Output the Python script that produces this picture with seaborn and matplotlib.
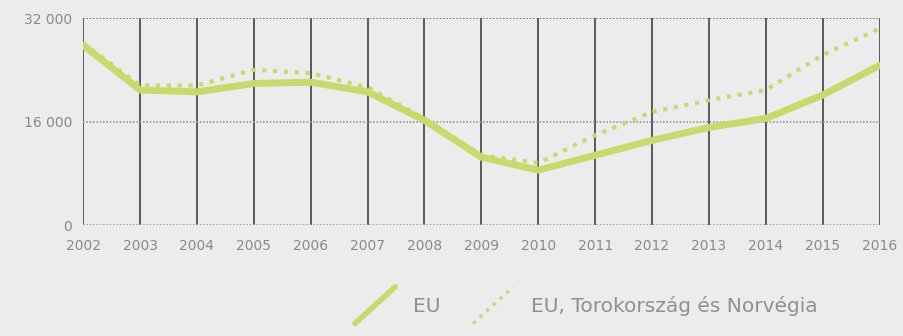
import matplotlib
matplotlib.use("Agg")
import matplotlib.pyplot as plt
import seaborn as sns
import pandas as pd
from matplotlib.legend_handler import HandlerLine2D
from matplotlib.lines import Line2D

years = list(range(2002, 2017))
eu = [27800, 20900, 20600, 21900, 22100, 20600, 16200, 10500, 8500, 10800, 13100, 15100, 16500, 20100, 24700]
eu_tr_no = [28100, 21600, 21600, 24000, 23500, 21300, 16500, 10800, 9600, 13900, 17500, 19300, 20900, 26300, 30400]
series_names = ["EU", "EU, Torokország és Norvégia"]
y_ticks = [0, 16000, 32000]
y_tick_labels = ["0", "16 000", "32 000"]

df = pd.DataFrame({"year": years * 2,
                   "value": eu + eu_tr_no,
                   "series": [series_names[0]] * len(years) + [series_names[1]] * len(years)})

sns.set_theme(style="white")
plt.rcParams['font.family'] = ['DejaVu Sans']
bg = "#ececec"
green = "#c8da6e"
txt = "#8a8a8a"

fig = plt.figure(figsize=(9.04, 3.36), dpi=100, facecolor=bg)
ax = fig.add_axes([0.092, 0.330, 0.881, 0.616], facecolor=bg)

for yr in years:
    ax.axvline(yr, color="#5a5a5a", lw=1.4, zorder=1)
ax.axhline(16000, color="#9a9a9a", lw=1.2, ls=(0, (1, 1)), zorder=1)
ax.axhline(32000, color="#6a6a6a", lw=1.2, ls=(0, (1, 1)), zorder=1)
ax.axhline(0, color="#9a9a9a", lw=1.2, ls=(0, (1, 1)), zorder=1)

sns.lineplot(data=df[df.series == series_names[0]], x="year", y="value", ax=ax,
             color=green, lw=5, legend=False, zorder=3)
sns.lineplot(data=df[df.series == series_names[1]], x="year", y="value", ax=ax,
             color=green, lw=3, ls=(0, (1, 1.6)), legend=False, zorder=3)

ax.set_xlim(2002, 2016)
ax.set_ylim(0, 32000)
ax.set_xticks(years)
ax.set_xticklabels([str(y) for y in years], color=txt, fontsize=10)
ax.set_yticks(y_ticks)
ax.set_yticklabels(y_tick_labels, color=txt, fontsize=10)
ax.tick_params(axis="x", length=0, pad=10)
ax.tick_params(axis="y", length=0, pad=8)
ax.set_xlabel("")
ax.set_ylabel("")
for s in ax.spines.values():
    s.set_visible(False)


class DiagHandler(HandlerLine2D):
    def create_artists(self, legend, orig_handle, xdescent, ydescent, width, height, fontsize, trans):
        line = Line2D([xdescent + 0, xdescent + width], [-ydescent - height * 0.8, -ydescent + height * 1.8])
        self.update_prop(line, orig_handle, legend)
        line.set_transform(trans)
        return [line]


h1 = Line2D([], [], color=green, lw=4)
h2 = Line2D([], [], color=green, lw=2.5, ls=(0, (1, 1.6)))
leg = fig.legend([h1, h2], series_names, loc="lower right", bbox_to_anchor=(0.925, 0.005),
                 ncol=2, frameon=False, fontsize=14.5, handlelength=2.0, handletextpad=0.9,
                 columnspacing=1.6, handler_map={Line2D: DiagHandler()})
for t in leg.get_texts():
    t.set_color("#909090")

fig.savefig("out.png", dpi=100, facecolor=bg)
